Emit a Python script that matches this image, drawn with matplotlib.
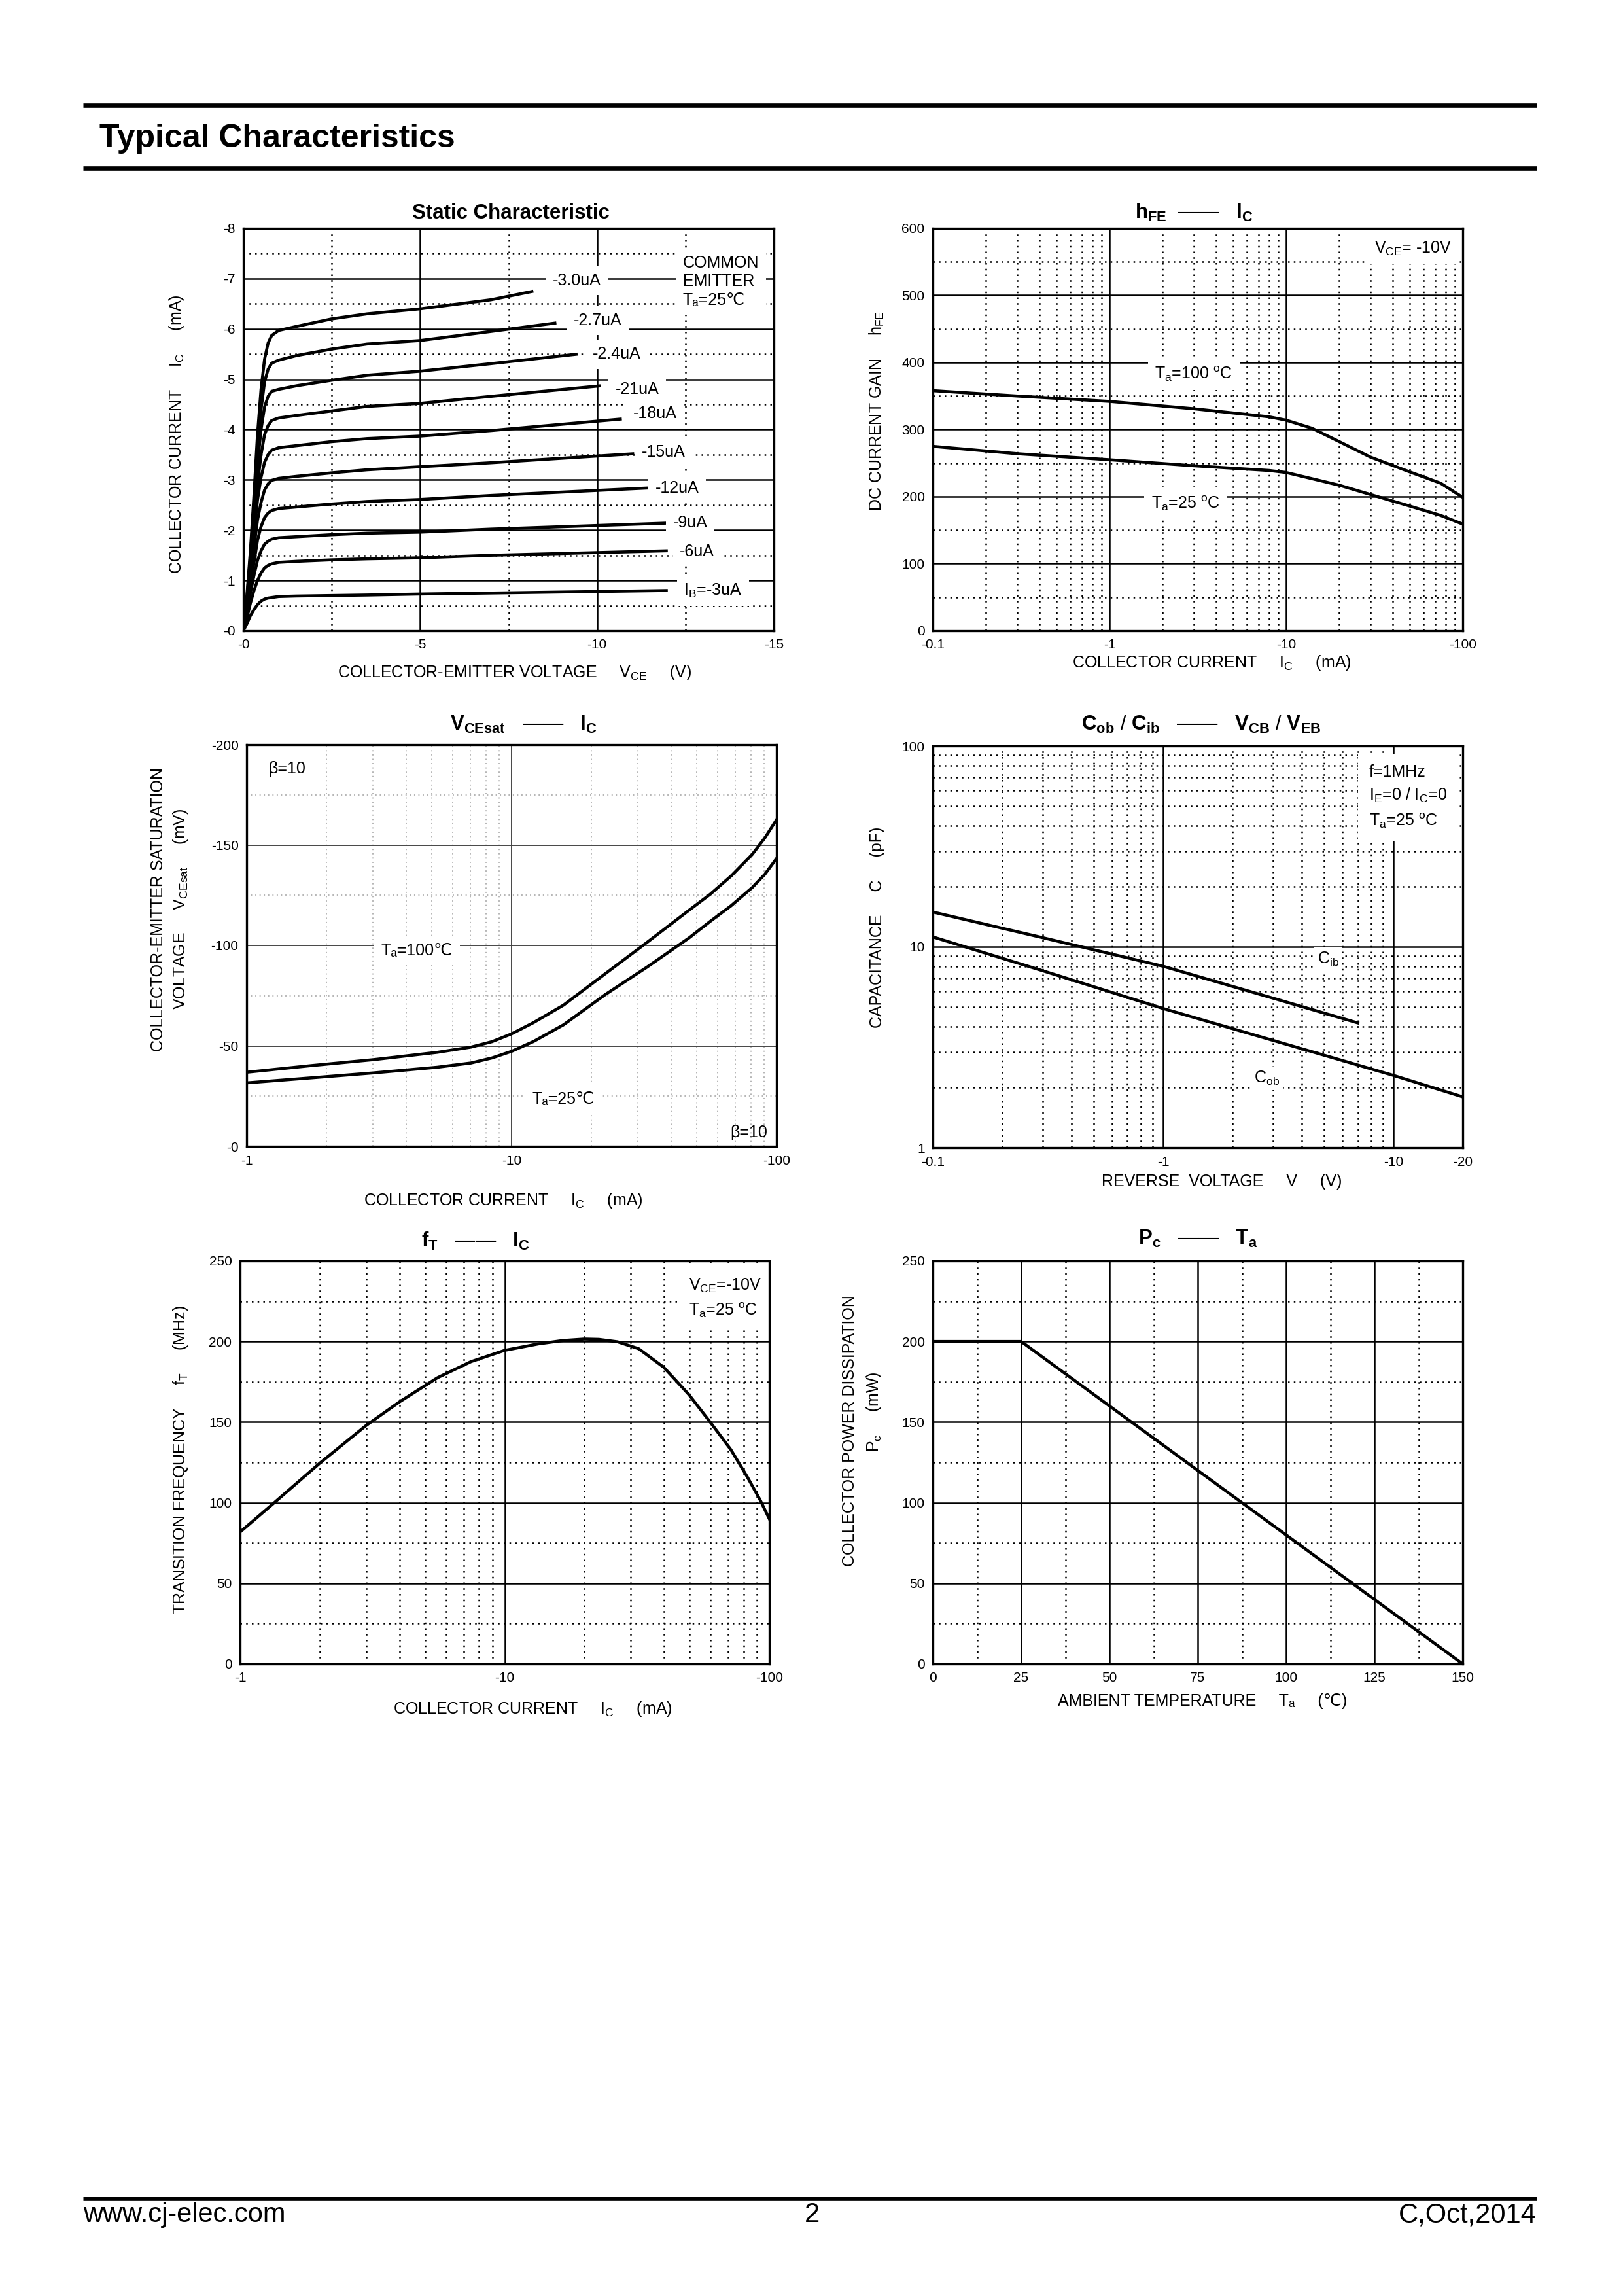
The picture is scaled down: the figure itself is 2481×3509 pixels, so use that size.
import numpy as np
import matplotlib
matplotlib.use('Agg')
import matplotlib.pyplot as plt
from matplotlib.lines import Line2D
from matplotlib.ticker import NullFormatter

plt.rcParams['font.family'] = ['Liberation Sans', 'DejaVu Sans']
plt.rcParams['mathtext.fontset'] = 'custom'
plt.rcParams['mathtext.rm'] = 'Liberation Sans'
plt.rcParams['mathtext.it'] = 'Liberation Sans:italic'
plt.rcParams['mathtext.bf'] = 'Liberation Sans:bold'

# ---------------- data ----------------
# static characteristic, IC (mA, magnitude) vs VCE (V, magnitude)
static_v = [0, 0.1, 0.2, 0.3, 0.4, 0.5, 0.6, 0.7, 0.8, 1.0, 1.5, 2.5, 3.5, 5, 7]
static_v_end = [8.2, 8.85, 9.45, 10.1, 10.7, 11.05, 11.5, 12, 12, 12]
static_i_30 = [0, 0.7, 1.6, 2.7, 3.9, 4.8, 5.4, 5.72, 5.87, 5.97, 6.05, 6.2, 6.3, 6.4, 6.58]
static_i_27 = [0, 0.65, 1.5, 2.5, 3.6, 4.4, 4.95, 5.2, 5.32, 5.38, 5.47, 5.6, 5.7, 5.77, 5.95]
static_i_24 = [0, 0.6, 1.4, 2.3, 3.3, 4.0, 4.45, 4.66, 4.76, 4.8, 4.87, 4.98, 5.08, 5.16, 5.31]
static_i_21 = [0, 0.55, 1.3, 2.1, 2.9, 3.5, 3.9, 4.08, 4.18, 4.23, 4.28, 4.37, 4.46, 4.52, 4.66]
static_i_18 = [0, 0.5, 1.2, 1.9, 2.6, 3.05, 3.35, 3.5, 3.59, 3.64, 3.68, 3.76, 3.82, 3.87, 3.98]
static_i_15 = [0, 0.45, 1.05, 1.65, 2.2, 2.55, 2.8, 2.92, 2.99, 3.03, 3.07, 3.14, 3.2, 3.26, 3.34]
static_i_12 = [0, 0.4, 0.9, 1.35, 1.8, 2.07, 2.25, 2.34, 2.39, 2.43, 2.46, 2.52, 2.57, 2.61, 2.69]
static_i_9 = [0, 0.33, 0.75, 1.1, 1.4, 1.59, 1.72, 1.78, 1.82, 1.85, 1.87, 1.91, 1.94, 1.96, 2.02]
static_i_6 = [0, 0.25, 0.55, 0.8, 1.0, 1.15, 1.25, 1.3, 1.33, 1.36, 1.38, 1.41, 1.43, 1.45, 1.5]
static_i_3 = [0, 0.14, 0.3, 0.42, 0.52, 0.59, 0.63, 0.65, 0.66, 0.68, 0.69, 0.7, 0.71, 0.73, 0.75]
static_i_end = [6.75, 6.12, 5.5, 4.87, 4.21, 3.52, 2.84, 2.14, 1.59, 0.80]
static_names = ['-3.0uA', '-2.7uA', '-2.4uA', '-21uA', '-18uA', '-15uA',
                '-12uA', '-9uA', '-6uA', r'$\mathrm{I_B}$=-3uA']
static_xticks = [0, 5, 10, 15]
static_xlabels = ['-0', '-5', '-10', '-15']
static_yticks = [0, 1, 2, 3, 4, 5, 6, 7, 8]
static_ylabels = ['-0', '-1', '-2', '-3', '-4', '-5', '-6', '-7', '-8']

# hFE vs IC
hfe_ic_100 = [0.1, 0.3, 1, 3, 8, 10, 14, 20, 30, 50, 75, 100]
hfe_100 = [358, 350, 342, 331, 319, 314, 302, 282, 259, 237, 220, 199]
hfe_ic_25 = [0.1, 0.3, 1, 3, 8, 10, 20, 35, 50, 75, 100]
hfe_25 = [275, 264, 255, 246, 239, 236, 217, 198, 186, 172, 159]
hfe_xticks = [0.1, 1, 10, 100]
hfe_xlabels = ['-0.1', '-1', '-10', '-100']
hfe_yticks = [0, 100, 200, 300, 400, 500, 600]

# VCEsat vs IC
vsat_ic = [1, 1.75, 3.03, 5.24, 7.02, 8.43, 10, 12.1, 15.7, 22.6, 32.5, 46.8, 56.2,
           67.4, 80.9, 90.3, 100]
vsat_100 = [36.9, 40.2, 43.2, 46.8, 49.4, 52.1, 56.0, 61.6, 70.3, 86.0, 101.6, 117.6,
            125.5, 134.6, 145.3, 153.5, 162.6]
vsat_25 = [31.6, 34.1, 36.6, 39.4, 41.5, 44.0, 47.3, 52.2, 60.5, 75.6, 89.3, 103.8,
           112.0, 119.8, 128.8, 135.4, 143.3]
vsat_xticks = [1, 10, 100]
vsat_xlabels = ['-1', '-10', '-100']
vsat_yticks = [0, 50, 100, 150, 200]
vsat_ylabels = ['-0', '-50', '-100', '-150', '-200']

# Cob / Cib vs reverse voltage
cib_v = [0.1, 0.3, 1, 3, 7]
cib = [14.9, 11.1, 8.0, 5.55, 4.18]
cob_v = [0.1, 0.3, 1, 3, 7, 10, 20]
cob = [11.2, 7.6, 4.93, 3.42, 2.58, 2.29, 1.79]
cap_xticks = [0.1, 1, 10, 20]
cap_xlabels = ['-0.1', '-1', '-10', '-20']
cap_yticks = [1, 10, 100]

# fT vs IC
ft_ic = [1, 1.34, 2.0, 3.0, 4.0, 5.57, 7.46, 10, 13.4, 16.6, 20, 22.7, 26.7, 32.1,
         39.9, 49.7, 59.6, 71.5, 82.7, 92.3, 100]
ft = [81.8, 99.7, 124.5, 148, 162.5, 177.5, 187.5, 194.5, 198.5, 200.6, 201.5, 201.3,
      199.8, 195.5, 184, 167, 150.3, 133, 115.8, 101.7, 90]
ft_xticks = [1, 10, 100]
ft_xlabels = ['-1', '-10', '-100']
ft_yticks = [0, 50, 100, 150, 200, 250]

# Pc vs Ta
pc_ta = [0, 25, 150]
pc = [200, 200, 0]
pc_xticks = [0, 25, 50, 75, 100, 125, 150]
pc_yticks = [0, 50, 100, 150, 200, 250]

# ---------------- page ----------------
W, H = 2481, 3509
fig = plt.figure(figsize=(W / 300, H / 300), dpi=300)


def px_axes(l, r, t, b):
    return fig.add_axes([l / W, 1 - b / H, (r - l) / W, (b - t) / H])


def ftext(x, y, s, **kw):
    return fig.text(x / W, 1 - y / H, s, **kw)


def hline(y, x0, x1, lw):
    fig.add_artist(Line2D([x0 / W, x1 / W], [1 - y / H, 1 - y / H], color='black',
                          lw=lw, transform=fig.transFigure, solid_capstyle='butt'))


def style(ax, major='black', minor='black', lw=0.6):
    ax.set_axisbelow(True)
    ax.grid(True, which='major', color=major, lw=lw, ls='-')
    ax.grid(True, which='minor', color=minor, lw=lw, ls=(0, (1, 2.5)))
    ax.tick_params(which='both', length=0, labelsize=5, pad=3)
    ax.xaxis.set_minor_formatter(NullFormatter())
    ax.yaxis.set_minor_formatter(NullFormatter())
    for s in ax.spines.values():
        s.set_linewidth(0.8)
        s.set_zorder(10)


box = dict(facecolor='white', edgecolor='none', pad=2.5)
CW = 1.1  # curve width
FS = 6

# header / footer
hline(161, 127, 2349, 1.6)
hline(257, 127, 2349, 1.6)
ftext(152, 225, 'Typical Characteristics', fontsize=12, fontweight='bold', va='baseline')
hline(3360, 127, 2349, 1.6)
ftext(127, 3385, 'www.cj-elec.com', fontsize=10, va='center')
ftext(1241, 3385, '2', fontsize=10, va='center', ha='center')
ftext(2349, 3385, 'C,Oct,2014', fontsize=10, va='center', ha='right')

# ---- chart 1 : static characteristic ----
ax1 = px_axes(372, 1183, 349, 964)
curves = [static_i_30, static_i_27, static_i_24, static_i_21, static_i_18,
          static_i_15, static_i_12, static_i_9, static_i_6, static_i_3]
for k, cur in enumerate(curves):
    ax1.plot(static_v + [static_v_end[k]], cur + [static_i_end[k]], color='black',
             lw=CW, solid_joinstyle='round', solid_capstyle='butt')
ax1.set_xlim(0, 15)
ax1.set_ylim(0, 8)
ax1.set_xticks(static_xticks, static_xlabels)
ax1.set_yticks(static_yticks, static_ylabels)
ax1.set_xticks([2.5, 7.5, 12.5], minor=True)
ax1.set_yticks(np.arange(0.5, 8, 1.0), minor=True)
style(ax1)
lab_pos = [(8.75, 6.96), (9.34, 6.17), (9.87, 5.5), (10.52, 4.8), (11.03, 4.32),
           (11.27, 3.55), (11.65, 2.83), (12.15, 2.14), (12.34, 1.58), (12.45, 0.8)]
for name, (x, y) in zip(static_names, lab_pos):
    ax1.text(x, y, name, fontsize=FS, va='center', ha='left', bbox=box, zorder=5)
ax1.text(12.42, 7.47, 'COMMON\nEMITTER\nTₐ=25℃', fontsize=FS,
         va='top', ha='left', bbox=box, zorder=5, linespacing=1.25)
ftext(781, 334, 'Static Characteristic', fontsize=7.5, fontweight='bold',
      ha='center', va='baseline')
ftext(270, 664, r'COLLECTOR CURRENT     $\mathrm{I_C}$     (mA)', fontsize=FS,
      rotation=90, ha='center', va='center')
ftext(787, 1028, r'COLLECTOR-EMITTER VOLTAGE     $\mathrm{V_{CE}}$     (V)',
      fontsize=FS, ha='center', va='center')

# ---- chart 2 : hFE vs IC ----
ax2 = px_axes(1426, 2236, 349, 964)
ax2.plot(hfe_ic_100, hfe_100, color='black', lw=CW)
ax2.plot(hfe_ic_25, hfe_25, color='black', lw=CW)
ax2.set_xscale('log')
ax2.set_xlim(0.1, 100)
ax2.set_ylim(0, 600)
ax2.set_xticks(hfe_xticks, hfe_xlabels)
ax2.set_yticks(hfe_yticks, [str(v) for v in hfe_yticks])
ax2.set_yticks(np.arange(50, 600, 100), minor=True)
style(ax2)
ax2.text(3.0, 383, r'$\mathrm{T_a}$=100 $^\mathrm{o}$C', fontsize=FS, ha='center',
         va='center', bbox=box, zorder=5)
ax2.text(2.7, 190, r'$\mathrm{T_a}$=25 $^\mathrm{o}$C', fontsize=FS, ha='center',
         va='center', bbox=box, zorder=5)
ax2.text(0.979, 0.95, r'$\mathrm{V_{CE}}$= -10V', fontsize=FS, ha='right',
         va='center', transform=ax2.transAxes, bbox=box, zorder=5)
ftext(1825, 334, r'$\mathbf{h_{FE}}$  ——   $\mathbf{I_C}$', fontsize=7.5,
      ha='center', va='baseline')
ftext(1340, 628, r'DC CURRENT GAIN     $\mathrm{h_{FE}}$', fontsize=FS,
      rotation=90, ha='center', va='center')
ftext(1852, 1013, r'COLLECTOR CURRENT     $\mathrm{I_C}$     (mA)', fontsize=FS,
      ha='center', va='center')

# ---- chart 3 : VCEsat vs IC ----
ax3 = px_axes(377, 1187, 1138, 1752)
ax3.plot(vsat_ic, vsat_100, color='black', lw=CW)
ax3.plot(vsat_ic, vsat_25, color='black', lw=CW)
ax3.set_xscale('log')
ax3.set_xlim(1, 100)
ax3.set_ylim(0, 200)
ax3.set_xticks(vsat_xticks, vsat_xlabels)
ax3.set_yticks(vsat_yticks, vsat_ylabels)
ax3.set_yticks(np.arange(25, 200, 50), minor=True)
style(ax3, major='0.25', minor='0.7', lw=0.45)
ax3.text(4.4, 97.5, 'Tₐ=100℃', fontsize=FS, ha='center', va='center',
         bbox=box, zorder=5)
ax3.text(15.7, 23.4, 'Tₐ=25℃', fontsize=FS, ha='center', va='center',
         bbox=box, zorder=5)
ax3.text(0.041, 0.94, 'β=10', fontsize=FS, ha='left', va='center',
         transform=ax3.transAxes)
ax3.text(0.983, 0.034, 'β=10', fontsize=FS, ha='right', va='center',
         transform=ax3.transAxes)
ftext(800, 1116, r'$\mathbf{V_{CEsat}}$   ——   $\mathbf{I_C}$', fontsize=7.5,
      ha='center', va='baseline')
ftext(242, 1390, 'COLLECTOR-EMITTER SATURATION', fontsize=FS, rotation=90,
      ha='center', va='center')
ftext(276, 1389, r'VOLTAGE     $\mathrm{V_{CEsat}}$     (mV)', fontsize=FS,
      rotation=90, ha='center', va='center')
ftext(769, 1835, r'COLLECTOR CURRENT     $\mathrm{I_C}$     (mA)', fontsize=FS,
      ha='center', va='center')

# ---- chart 4 : capacitance ----
ax4 = px_axes(1426, 2236, 1140, 1754)
ax4.plot(cib_v, cib, color='black', lw=CW)
ax4.plot(cob_v, cob, color='black', lw=CW)
ax4.set_xscale('log')
ax4.set_yscale('log')
ax4.set_xlim(0.1, 20)
ax4.set_ylim(1, 100)
ax4.set_xticks(cap_xticks, cap_xlabels)
ax4.set_yticks(cap_yticks, [str(v) for v in cap_yticks])
style(ax4)
small_box = dict(facecolor='white', edgecolor='none', pad=1.2)
ax4.text(4.67, 8.7, r'$\mathrm{C_{ib}}$', fontsize=FS, ha='left', va='center',
         bbox=small_box, zorder=5)
ax4.text(2.49, 2.21, r'$\mathrm{C_{ob}}$', fontsize=FS, ha='left', va='center',
         bbox=small_box, zorder=5)
ax4.text(0.823, 0.955, 'f=1MHz\n' + r'$\mathrm{I_E}$=0 / $\mathrm{I_C}$=0' + '\n'
         + r'$\mathrm{T_a}$=25 $^\mathrm{o}$C', fontsize=FS, ha='left', va='top',
         transform=ax4.transAxes, bbox=dict(facecolor='white', edgecolor='none', pad=4),
         zorder=5, linespacing=1.5)
ftext(1836, 1116, r'$\mathbf{C_{ob}}$ / $\mathbf{C_{ib}}$   ——   '
      r'$\mathbf{V_{CB}}$ / $\mathbf{V_{EB}}$', fontsize=7.5, ha='center', va='baseline')
ftext(1341, 1417, r'CAPACITANCE     C     (pF)', fontsize=FS, rotation=90,
      ha='center', va='center')
ftext(1868, 1806, r'REVERSE  VOLTAGE     V     (V)', fontsize=FS, ha='center',
      va='center')

# ---- chart 5 : fT vs IC ----
ax5 = px_axes(367, 1176, 1927, 2543)
ax5.plot(ft_ic, ft, color='black', lw=CW, solid_joinstyle='round')
ax5.set_xscale('log')
ax5.set_xlim(1, 100)
ax5.set_ylim(0, 250)
ax5.set_xticks(ft_xticks, ft_xlabels)
ax5.set_yticks(ft_yticks, [str(v) for v in ft_yticks])
ax5.set_yticks(np.arange(25, 250, 50), minor=True)
style(ax5)
ax5.text(0.848, 0.96, r'$\mathrm{V_{CE}}$=-10V' + '\n' + r'$\mathrm{T_a}$=25 $^\mathrm{o}$C',
         fontsize=FS, ha='left', va='top', transform=ax5.transAxes,
         bbox=dict(facecolor='white', edgecolor='none', pad=4), zorder=5, linespacing=1.5)
ftext(727, 1906, r'$\mathbf{f_T}$   ——   $\mathbf{I_C}$', fontsize=7.5,
      ha='center', va='baseline')
ftext(276, 2231, r'TRANSITION FREQUENCY     $\mathrm{f_T}$     (MHz)', fontsize=FS,
      rotation=90, ha='center', va='center')
ftext(814, 2612, r'COLLECTOR CURRENT     $\mathrm{I_C}$     (mA)', fontsize=FS,
      ha='center', va='center')

# ---- chart 6 : Pc vs Ta ----
ax6 = px_axes(1426, 2236, 1927, 2543)
ax6.plot(pc_ta, pc, color='black', lw=CW)
ax6.set_xlim(0, 150)
ax6.set_ylim(0, 250)
ax6.set_xticks(pc_xticks, [str(v) for v in pc_xticks])
ax6.set_yticks(pc_yticks, [str(v) for v in pc_yticks])
ax6.set_xticks(np.arange(12.5, 150, 25), minor=True)
ax6.set_yticks(np.arange(25, 250, 50), minor=True)
style(ax6)
ftext(1831, 1902, r'$\mathbf{P_c}$   ——   $\mathbf{T_a}$', fontsize=7.5,
      ha='center', va='baseline')
ftext(1299, 2187, 'COLLECTOR POWER DISSIPATION', fontsize=FS, rotation=90,
      ha='center', va='center')
ftext(1336, 2158, r'$\mathrm{P_c}$     (mW)', fontsize=FS, rotation=90,
      ha='center', va='center')
ftext(1838, 2600, 'AMBIENT TEMPERATURE     Tₐ     (℃)', fontsize=FS,
      ha='center', va='center')

fig.savefig('out.png', dpi=300)
